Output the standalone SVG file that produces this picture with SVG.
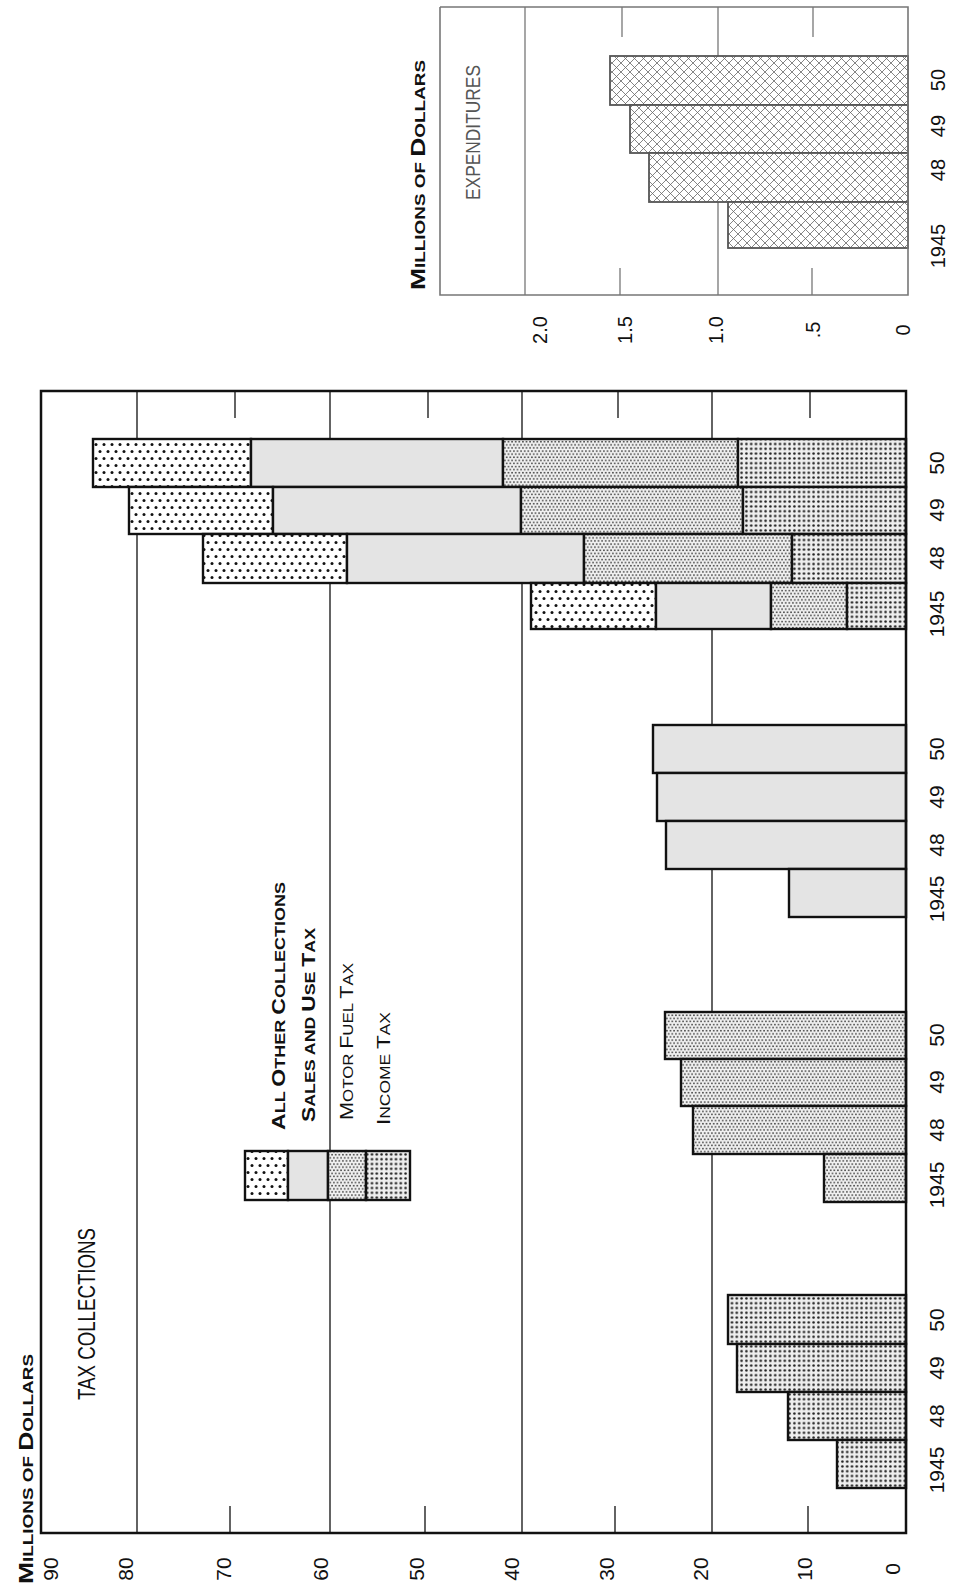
<svg xmlns="http://www.w3.org/2000/svg" width="956" height="1585" viewBox="0 0 956 1585">
<style>
text{font-family:"Liberation Sans",Arial,sans-serif;fill:#111}
.ax{font-size:21px}
.yr{font-size:21px}
.rt{fill:#555;font-size:20px}
.frame{fill:none;stroke:#111;stroke-width:2.5}
.grid{stroke:#222;stroke-width:1.4}
.bar{stroke:#111;stroke-width:2.4}
.rframe{fill:none;stroke:#777;stroke-width:1.6}
.rgrid{stroke:#777;stroke-width:1.3}
.rbar{stroke:#555;stroke-width:1.8;fill:url(#xh)}
.inc{fill:url(#pInc)}
.mot{fill:url(#pMot)}
.sal{fill:#e4e4e4}
.oth{fill:url(#pOth)}
</style>
<defs>
<pattern id="pInc" width="4.8" height="4.8" patternUnits="userSpaceOnUse"><rect width="4.8" height="4.8" fill="#eee"/><circle cx="2.4" cy="2.4" r="1.25" fill="#1a1a1a"/></pattern>
<pattern id="pMot" width="3.6" height="6.2" patternUnits="userSpaceOnUse"><rect width="3.6" height="6.2" fill="#f0f0f0"/><circle cx="0.9" cy="1.5" r="0.9" fill="#444"/><circle cx="2.7" cy="4.6" r="0.9" fill="#444"/></pattern>
<pattern id="pOth" width="8" height="14" patternUnits="userSpaceOnUse"><rect width="8" height="14" fill="#fff"/><circle cx="4" cy="3.5" r="1.5" fill="#111"/><circle cx="0" cy="10.5" r="1.5" fill="#111"/><circle cx="8" cy="10.5" r="1.5" fill="#111"/></pattern>
<pattern id="xh" width="9" height="9" patternUnits="userSpaceOnUse"><rect width="9" height="9" fill="#fff"/><path d="M0,0L9,9M9,0L0,9M-1,8L1,10M8,-1L10,1M-1,1L1,-1M8,10L10,8" stroke="#666" stroke-width="0.8"/></pattern>
</defs>

<g id="tax-chart">
<g id="tax-grid">
<line class="grid" x1="137" y1="391" x2="137" y2="1533"/>
<line class="grid" x1="330" y1="391" x2="330" y2="1533"/>
<line class="grid" x1="522" y1="391" x2="522" y2="1533"/>
<line class="grid" x1="712" y1="391" x2="712" y2="1533"/>
<line class="grid" x1="235" y1="391" x2="235" y2="418"/>
<line class="grid" x1="428" y1="391" x2="428" y2="418"/>
<line class="grid" x1="618" y1="391" x2="618" y2="418"/>
<line class="grid" x1="810" y1="391" x2="810" y2="418"/>
<line class="grid" x1="230" y1="1506" x2="230" y2="1533"/>
<line class="grid" x1="425" y1="1506" x2="425" y2="1533"/>
<line class="grid" x1="615" y1="1506" x2="615" y2="1533"/>
<line class="grid" x1="808" y1="1506" x2="808" y2="1533"/>
</g>

<g id="income-bars">
<rect class="bar inc" x="728" y="1295" width="178" height="49"/>
<rect class="bar inc" x="737" y="1344" width="169" height="48"/>
<rect class="bar inc" x="788" y="1392" width="118" height="48"/>
<rect class="bar inc" x="837" y="1440" width="69" height="48"/>
</g>
<g id="motor-bars">
<rect class="bar mot" x="665" y="1012" width="241" height="47"/>
<rect class="bar mot" x="681" y="1059" width="225" height="47"/>
<rect class="bar mot" x="693" y="1106" width="213" height="48"/>
<rect class="bar mot" x="824" y="1154" width="82" height="48"/>
</g>
<g id="sales-bars">
<rect class="bar sal" x="653" y="725" width="253" height="48"/>
<rect class="bar sal" x="657" y="773" width="249" height="48"/>
<rect class="bar sal" x="666" y="821" width="240" height="48"/>
<rect class="bar sal" x="789" y="869" width="117" height="48"/>
</g>
<g id="total-bars">
<rect class="bar oth" x="93" y="439" width="158" height="48"/>
<rect class="bar sal" x="251" y="439" width="252" height="48"/>
<rect class="bar mot" x="503" y="439" width="235" height="48"/>
<rect class="bar inc" x="738" y="439" width="168" height="48"/>
<rect class="bar oth" x="129" y="487" width="144" height="47"/>
<rect class="bar sal" x="273" y="487" width="248" height="47"/>
<rect class="bar mot" x="521" y="487" width="222" height="47"/>
<rect class="bar inc" x="743" y="487" width="163" height="47"/>
<rect class="bar oth" x="203" y="534" width="144" height="49"/>
<rect class="bar sal" x="347" y="534" width="237" height="49"/>
<rect class="bar mot" x="584" y="534" width="208" height="49"/>
<rect class="bar inc" x="792" y="534" width="114" height="49"/>
<rect class="bar oth" x="531" y="583" width="125" height="46"/>
<rect class="bar sal" x="656" y="583" width="115" height="46"/>
<rect class="bar mot" x="771" y="583" width="76" height="46"/>
<rect class="bar inc" x="847" y="583" width="59" height="46"/>
</g>

<rect id="tax-frame" class="frame" x="41" y="391" width="865" height="1142"/>

<g id="tax-year-labels" class="yr" text-anchor="middle">
<text transform="translate(944,463) rotate(-90)">50</text>
<text transform="translate(944,510) rotate(-90)">49</text>
<text transform="translate(944,558) rotate(-90)">48</text>
<text transform="translate(944,614) rotate(-90)">1945</text>
<text transform="translate(944,749) rotate(-90)">50</text>
<text transform="translate(944,797) rotate(-90)">49</text>
<text transform="translate(944,845) rotate(-90)">48</text>
<text transform="translate(944,899) rotate(-90)">1945</text>
<text transform="translate(944,1035) rotate(-90)">50</text>
<text transform="translate(944,1082) rotate(-90)">49</text>
<text transform="translate(944,1130) rotate(-90)">48</text>
<text transform="translate(944,1185) rotate(-90)">1945</text>
<text transform="translate(944,1320) rotate(-90)">50</text>
<text transform="translate(944,1368) rotate(-90)">49</text>
<text transform="translate(944,1416) rotate(-90)">48</text>
<text transform="translate(944,1470) rotate(-90)">1945</text>
</g>

<g id="tax-axis-labels" class="ax" text-anchor="middle">
<text transform="translate(58,1569) rotate(-90)">90</text>
<text transform="translate(133,1569) rotate(-90)">80</text>
<text transform="translate(231,1569) rotate(-90)">70</text>
<text transform="translate(328,1569) rotate(-90)">60</text>
<text transform="translate(424,1569) rotate(-90)">50</text>
<text transform="translate(519,1569) rotate(-90)">40</text>
<text transform="translate(614,1569) rotate(-90)">30</text>
<text transform="translate(708,1569) rotate(-90)">20</text>
<text transform="translate(812,1569) rotate(-90)">10</text>
<text transform="translate(900,1569) rotate(-90)">0</text>
</g>

<text id="tax-unit" transform="translate(33,1584) rotate(-90)" font-weight="bold" textLength="230" lengthAdjust="spacingAndGlyphs"><tspan font-size="21">M</tspan><tspan font-size="15">ILLIONS OF </tspan><tspan font-size="21">D</tspan><tspan font-size="15">OLLARS</tspan></text>
<text id="tax-title" transform="translate(95,1400) rotate(-90)" font-size="24" textLength="172" lengthAdjust="spacingAndGlyphs">TAX COLLECTIONS</text>

<g id="legend">
<rect class="bar oth" x="245" y="1151" width="43" height="49"/>
<rect class="bar sal" x="288" y="1151" width="40" height="49"/>
<rect class="bar mot" x="328" y="1151" width="38" height="49"/>
<rect class="bar inc" x="366" y="1151" width="44" height="49"/>
<text transform="translate(285,1130) rotate(-90)" font-weight="bold" textLength="248" lengthAdjust="spacingAndGlyphs"><tspan font-size="18">A</tspan><tspan font-size="14">LL </tspan><tspan font-size="18">O</tspan><tspan font-size="14">THER </tspan><tspan font-size="18">C</tspan><tspan font-size="14">OLLECTIONS</tspan></text>
<text transform="translate(315,1122) rotate(-90)" font-weight="bold" textLength="194" lengthAdjust="spacingAndGlyphs"><tspan font-size="18">S</tspan><tspan font-size="14">ALES AND </tspan><tspan font-size="18">U</tspan><tspan font-size="14">SE </tspan><tspan font-size="18">T</tspan><tspan font-size="14">AX</tspan></text>
<text transform="translate(353,1120) rotate(-90)" textLength="157" lengthAdjust="spacingAndGlyphs"><tspan font-size="18">M</tspan><tspan font-size="14">OTOR </tspan><tspan font-size="18">F</tspan><tspan font-size="14">UEL </tspan><tspan font-size="18">T</tspan><tspan font-size="14">AX</tspan></text>
<text transform="translate(390,1125) rotate(-90)" textLength="113" lengthAdjust="spacingAndGlyphs"><tspan font-size="18">I</tspan><tspan font-size="14">NCOME </tspan><tspan font-size="18">T</tspan><tspan font-size="14">AX</tspan></text>
</g>
</g>

<g id="exp-chart">
<g id="exp-grid">
<line class="rgrid" x1="525" y1="7" x2="525" y2="295"/>
<line class="rgrid" x1="718" y1="7" x2="718" y2="295"/>
<line class="rgrid" x1="622" y1="7" x2="622" y2="37"/>
<line class="rgrid" x1="813" y1="7" x2="813" y2="37"/>
<line class="rgrid" x1="620" y1="268" x2="620" y2="295"/>
<line class="rgrid" x1="812" y1="268" x2="812" y2="295"/>
</g>
<g id="exp-bars">
<rect class="rbar" x="610" y="56" width="298" height="49"/>
<rect class="rbar" x="630" y="105" width="278" height="48"/>
<rect class="rbar" x="649" y="153" width="259" height="49"/>
<rect class="rbar" x="728" y="202" width="180" height="46"/>
</g>
<polyline id="exp-frame" class="rframe" points="440,7 908,7 908,295 440,295 440,7"/>
<g id="exp-year-labels" class="rt" text-anchor="middle">
<text transform="translate(945,80) rotate(-90)">50</text>
<text transform="translate(945,126) rotate(-90)">49</text>
<text transform="translate(945,170) rotate(-90)">48</text>
<text transform="translate(945,246) rotate(-90)">1945</text>
</g>
<g id="exp-axis-labels" class="rt" text-anchor="middle">
<text transform="translate(547,330) rotate(-90)">2.0</text>
<text transform="translate(632,330) rotate(-90)">1.5</text>
<text transform="translate(723,330) rotate(-90)">1.0</text>
<text transform="translate(820,330) rotate(-90)">.5</text>
<text transform="translate(910,330) rotate(-90)">0</text>
</g>
<text id="exp-unit" transform="translate(425,290) rotate(-90)" font-weight="bold" textLength="230" lengthAdjust="spacingAndGlyphs"><tspan font-size="21">M</tspan><tspan font-size="15">ILLIONS OF </tspan><tspan font-size="21">D</tspan><tspan font-size="15">OLLARS</tspan></text>
<text id="exp-title" transform="translate(480,200) rotate(-90)" class="rt" font-size="18" textLength="135" lengthAdjust="spacingAndGlyphs">EXPENDITURES</text>
</g>
</svg>
